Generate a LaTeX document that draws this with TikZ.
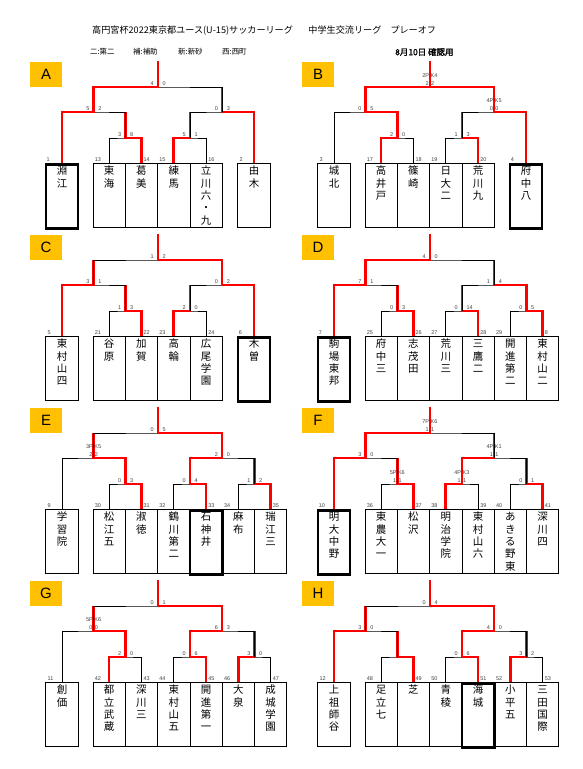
\documentclass[tikz,border=0pt]{standalone}
\usepackage{fontspec}
\setmainfont{Liberation Sans}
\newfontfamily\jpfont{Noto Sans CJK JP}
\newfontfamily\jpbold[FakeBold=1.5]{Noto Sans CJK JP}
\definecolor{tagorange}{HTML}{FFC000}

% team box + vertical name + seed number
\newcommand\team[5][]{%
  \node[teambox,#1] (t#2) at (#3,101) {};
  \node[tname] (n#2) at (t#2.north) {\rule{0pt}{9.5bp}#5};
  \node[seed] (s#2) at (t#2.#4) {#2};}
% one match: left, right, joint, parent, winner (l/r)
\newcommand\bout[5]{%
  \draw[bline] (#1) |- (#3) -| (#2);
  \if l#5\relax
    \draw[win] (#1) |- (#3) -- (#3 |- #4);
  \else
    \draw[win] (#2) |- (#3) -- (#3 |- #4);
  \fi}
\newcommand\score[3]{%
  \node[score, anchor=south east] (#1l) at ([xshift=-4bp,yshift=1.5bp]#1) {#2};
  \node[score, anchor=south west] (#1r) at ([xshift=4.5bp,yshift=1.5bp]#1) {#3};}
\newcommand\pk[3]{%
  \node[score, anchor=south] (#1k) at ([yshift=9bp]#1) {#2};
  \node[score, anchor=south] (#1s) at ([yshift=1.5bp]#1) {#3};}
\newcommand\joints[1]{%
  \coordinate (#1p1) at (79.3,76);
  \coordinate (#1p2) at (143.9,76);
  \coordinate (#1p3) at (208.5,76);
  \coordinate (#1q1) at (47.65,50);
  \coordinate (#1q2) at (176.1,50);
  \coordinate (#1f) at (111.85,25);
  \coordinate (#1top) at (111.85,-1);
  \node[tag] (tag#1) at (0,12.5) {#1};}

\begin{document}
\begin{tikzpicture}[
    x=1bp, y=-1bp,
    bline/.style={line width=0.8bp},
    win/.style={red, line width=2.6bp},
    teambox/.style={draw, line width=0.8bp, anchor=north, minimum width=32.3bp, minimum height=64bp, inner sep=0pt},
    winbox/.style={line width=2.6bp},
    tname/.style={anchor=north, inner sep=0pt, yshift=-2.2bp, align=center, font=\jpfont\fontsize{10.5}{12.4}\selectfont},
    seed/.style={anchor=south west, inner sep=0pt, xshift=2bp, yshift=1.5bp, font=\fontsize{5.5}{6}\selectfont, text=black!75},
    score/.style={inner sep=0pt, font=\fontsize{5.5}{6}\selectfont, text=black!75},
    tag/.style={fill=tagorange, minimum width=32bp, minimum height=25bp, inner sep=0pt, font=\fontsize{15}{15}\selectfont},
]
\path[use as bounding box, fill=white] (0,0) rectangle (583,769);

% ---- columns ----
\def\cS{16}  \def\cT{208}
\def\gA{63.15} \def\gB{95.45} \def\gC{127.75}
\def\gD{160.05} \def\gE{192.35} \def\gF{224.65}

% ---- header ----
\node[anchor=west, inner sep=0pt, font=\jpfont\fontsize{9.15}{10}\selectfont] (title) at (92,31)
  {高円宮杯2022東京都ユース(U-15)サッカーリーグ\hspace{1.7em}中学生交流リーグ\hspace{1em}プレーオフ};
\foreach \k/\x/\t in {1/90/{二:第二}, 2/133/{補:補助}, 3/178/{新:新砂}, 4/222/{西:西町}}
  \node[anchor=west, inner sep=0pt, font=\jpfont\fontsize{7.5}{8}\selectfont] (key\k) at (\x,52) {\t};
\node[anchor=west, inner sep=0pt, font=\jpbold\fontsize{8.5}{9}\selectfont] (date) at (395,52) {8月10日 確認用};

% ---- A ----
\begin{scope}[shift={(46,62)}]
  \joints{A}
  \team[winbox]{1}{\cS}{north west}{淵\\江}
  \team{13}{\gA}{north west}{東\\海}
  \team{14}{\gB}{north}{葛\\美}
  \team{15}{\gC}{north west}{練\\馬}
  \team{16}{\gD}{north}{立\\川\\六\\・\\九}
  \team{2}{\cT}{north west}{由\\木}
  \bout{t13.north}{t14.north}{Ap1}{Aq1}{r} \score{Ap1}{3}{8}
  \bout{t15.north}{t16.north}{Ap2}{Aq2}{l} \score{Ap2}{5}{1}
  \bout{t1.north}{Ap1}{Aq1}{Af}{l}         \score{Aq1}{5}{2}
  \bout{Ap2}{t2.north}{Aq2}{Af}{r}         \score{Aq2}{0}{3}
  \bout{Aq1}{Aq2}{Af}{Atop}{l}             \score{Af}{4}{0}
\end{scope}

% ---- B ----
\begin{scope}[shift={(318,62)}]
  \joints{B}
  \team{3}{\cS}{north west}{城\\北}
  \team{17}{\gA}{north west}{高\\井\\戸}
  \team{18}{\gB}{north}{篠\\崎}
  \team{19}{\gC}{north west}{日\\大\\二}
  \team{20}{\gD}{north}{荒\\川\\九}
  \team[winbox]{4}{\cT}{north west}{府\\中\\八}
  \bout{t17.north}{t18.north}{Bp1}{Bq1}{l} \score{Bp1}{2}{0}
  \bout{t19.north}{t20.north}{Bp2}{Bq2}{r} \score{Bp2}{1}{3}
  \bout{t3.north}{Bp1}{Bq1}{Bf}{r}         \score{Bq1}{0}{5}
  \bout{Bp2}{t4.north}{Bq2}{Bf}{r}         \pk{Bq2}{4P K5}{0\hspace{2.5bp}0}
  \bout{Bq1}{Bq2}{Bf}{Btop}{r}             \pk{Bf}{2P K4}{2\hspace{2.5bp}2}
  \draw[win] (Bq1) |- (Bf);
\end{scope}

% ---- C ----
\begin{scope}[shift={(46,235)}]
  \joints{C}
  \team{5}{\cS}{north west}{東\\村\\山\\四}
  \team{21}{\gA}{north west}{谷\\原}
  \team{22}{\gB}{north}{加\\賀}
  \team{23}{\gC}{north west}{高\\輪}
  \team{24}{\gD}{north}{広\\尾\\学\\園}
  \team[winbox]{6}{\cT}{north west}{木\\曽}
  \bout{t21.north}{t22.north}{Cp1}{Cq1}{r} \score{Cp1}{1}{3}
  \bout{t23.north}{t24.north}{Cp2}{Cq2}{l} \score{Cp2}{2}{0}
  \bout{t5.north}{Cp1}{Cq1}{Cf}{l}         \score{Cq1}{3}{1}
  \bout{Cp2}{t6.north}{Cq2}{Cf}{r}         \score{Cq2}{0}{2}
  \bout{Cq1}{Cq2}{Cf}{Ctop}{r}             \score{Cf}{1}{2}
\end{scope}

% ---- D ----
\begin{scope}[shift={(318,235)}]
  \joints{D}
  \team[winbox]{7}{\cS}{north west}{駒\\場\\東\\邦}
  \team{25}{\gA}{north west}{府\\中\\三}
  \team{26}{\gB}{north}{志\\茂\\田}
  \team{27}{\gC}{north west}{荒\\川\\三}
  \team{28}{\gD}{north}{三\\鷹\\二}
  \team{29}{\gE}{north west}{開\\進\\第\\二}
  \team{8}{\gF}{north}{東\\村\\山\\二}
  \bout{t25.north}{t26.north}{Dp1}{Dq1}{r} \score{Dp1}{0}{3}
  \bout{t27.north}{t28.north}{Dp2}{Dq2}{r} \score{Dp2}{0}{14}
  \bout{t29.north}{t8.north}{Dp3}{Dq2}{r}  \score{Dp3}{0}{5}
  \bout{t7.north}{Dp1}{Dq1}{Df}{l}         \score{Dq1}{7}{1}
  \bout{Dp2}{Dp3}{Dq2}{Df}{r}              \score{Dq2}{1}{4}
  \bout{Dq1}{Dq2}{Df}{Dtop}{l}             \score{Df}{4}{0}
\end{scope}

% ---- E ----
\begin{scope}[shift={(46,408)}]
  \joints{E}
  \team{9}{\cS}{north west}{学\\習\\院}
  \team{30}{\gA}{north west}{松\\江\\五}
  \team{31}{\gB}{north}{淑\\徳}
  \team{32}{\gC}{north west}{鶴\\川\\第\\二}
  \team[winbox]{33}{\gD}{north}{石\\神\\井}
  \team{34}{\gE}{north west}{麻\\布}
  \team{35}{\gF}{north}{瑞\\江\\三}
  \bout{t30.north}{t31.north}{Ep1}{Eq1}{r} \score{Ep1}{0}{3}
  \bout{t32.north}{t33.north}{Ep2}{Eq2}{r} \score{Ep2}{0}{4}
  \bout{t34.north}{t35.north}{Ep3}{Eq2}{r} \score{Ep3}{1}{2}
  \bout{t9.north}{Ep1}{Eq1}{Ef}{r}         \pk{Eq1}{3P K5}{2\hspace{2.5bp}2}
  \bout{Ep2}{Ep3}{Eq2}{Ef}{l}              \score{Eq2}{2}{0}
  \bout{Eq1}{Eq2}{Ef}{Etop}{r}             \score{Ef}{0}{5}
\end{scope}

% ---- F ----
\begin{scope}[shift={(318,408)}]
  \joints{F}
  \team[winbox]{10}{\cS}{north west}{明\\大\\中\\野}
  \team{36}{\gA}{north west}{東\\農\\大\\一}
  \team{37}{\gB}{north}{松\\沢}
  \team{38}{\gC}{north west}{明\\治\\学\\院}
  \team{39}{\gD}{north}{東\\村\\山\\六}
  \team{40}{\gE}{north west}{あ\\き\\る\\野\\東}
  \team{41}{\gF}{north}{深\\川\\四}
  \bout{t36.north}{t37.north}{Fp1}{Fq1}{r} \pk{Fp1}{5P K6}{1\hspace{2.5bp}1}
  \bout{t38.north}{t39.north}{Fp2}{Fq2}{l} \pk{Fp2}{4P K3}{1\hspace{2.5bp}1}
  \bout{t40.north}{t41.north}{Fp3}{Fq2}{r} \score{Fp3}{0}{1}
  \bout{t10.north}{Fp1}{Fq1}{Ff}{l}        \score{Fq1}{3}{0}
  \bout{Fp2}{Fp3}{Fq2}{Ff}{l}              \pk{Fq2}{4P K1}{1\hspace{2.5bp}1}
  \bout{Fq1}{Fq2}{Ff}{Ftop}{l}             \pk{Ff}{7P K6}{1\hspace{2.5bp}1}
\end{scope}

% ---- G ----
\begin{scope}[shift={(46,581)}]
  \joints{G}
  \team{11}{\cS}{north west}{創\\価}
  \team{42}{\gA}{north west}{都\\立\\武\\蔵}
  \team{43}{\gB}{north}{深\\川\\三}
  \team{44}{\gC}{north west}{東\\村\\山\\五}
  \team{45}{\gD}{north}{開\\進\\第\\一}
  \team{46}{\gE}{north west}{大\\泉}
  \team{47}{\gF}{north}{成\\城\\学\\園}
  \bout{t42.north}{t43.north}{Gp1}{Gq1}{l} \score{Gp1}{2}{0}
  \bout{t44.north}{t45.north}{Gp2}{Gq2}{r} \score{Gp2}{0}{6}
  \bout{t46.north}{t47.north}{Gp3}{Gq2}{l} \score{Gp3}{3}{0}
  \bout{t11.north}{Gp1}{Gq1}{Gf}{r}        \pk{Gq1}{5P K6}{0\hspace{2.5bp}0}
  \bout{Gp2}{Gp3}{Gq2}{Gf}{l}              \score{Gq2}{6}{3}
  \bout{Gq1}{Gq2}{Gf}{Gtop}{r}             \score{Gf}{0}{1}
\end{scope}

% ---- H ----
\begin{scope}[shift={(318,581)}]
  \joints{H}
  \team{12}{\cS}{north west}{上\\祖\\師\\谷}
  \team{48}{\gA}{north west}{足\\立\\七}
  \team{49}{\gB}{north}{芝}
  \team{50}{\gC}{north west}{青\\稜}
  \team[winbox]{51}{\gD}{north}{海\\城}
  \team{52}{\gE}{north west}{小\\平\\五}
  \team{53}{\gF}{north}{三\\田\\国\\際}
  \bout{t48.north}{t49.north}{Hp1}{Hq1}{r}
  \bout{t50.north}{t51.north}{Hp2}{Hq2}{r} \score{Hp2}{0}{6}
  \bout{t52.north}{t53.north}{Hp3}{Hq2}{l} \score{Hp3}{3}{2}
  \bout{t12.north}{Hp1}{Hq1}{Hf}{l}        \score{Hq1}{3}{0}
  \bout{Hp2}{Hp3}{Hq2}{Hf}{l}              \score{Hq2}{4}{0}
  \bout{Hq1}{Hq2}{Hf}{Htop}{r}             \score{Hf}{0}{4}
\end{scope}

\end{tikzpicture}
\end{document}
